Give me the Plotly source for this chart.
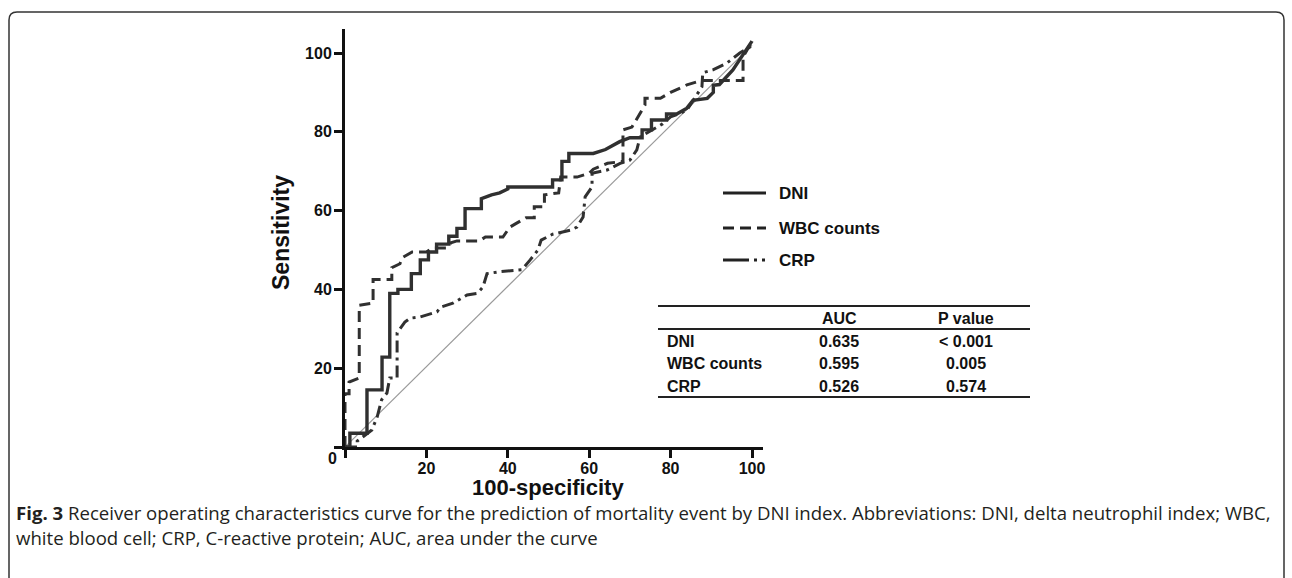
import plotly.graph_objects as go

# ---------------- data ----------------
dni_x = [0, 1.2, 1.2, 5.4, 5.4, 9.1, 9.1, 11, 11, 13, 13, 16.3, 16.3, 18.5, 18.5, 20.5, 20.5, 22.5, 22.5,
         25.5, 25.5, 27.5, 27.5, 29.5, 29.5, 33.5, 33.5, 36, 38, 40, 40, 51, 51, 53.3, 53.3, 55, 55, 61,
         64, 67.5, 70, 73, 73, 75.3, 75.3, 79, 79, 81.5, 84, 85.5, 89, 90.5, 90.5, 92, 95.3, 100]
dni_y = [0, 0, 3.5, 3.5, 14.5, 14.5, 22.8, 22.8, 39, 39, 40, 40, 44, 44, 47.5, 47.5, 49.5, 49.5, 51.5,
         51.5, 53.5, 53.5, 55.5, 55.5, 60.5, 60.5, 63, 64, 64.5, 65.5, 66, 66, 67.8, 67.8, 72.5, 72.5, 74.5, 74.5,
         75.5, 77.5, 78.5, 78.5, 80.5, 80.5, 83, 83, 84.5, 84.5, 86, 88, 88.5, 90, 91.8, 92, 95.7, 103]

wbc_x = [0, 0, 1, 1, 3.5, 3.5, 6.9, 6.9, 11.5, 11.5, 13.5, 14, 16.5, 20, 21.5, 25, 26, 27.5, 33, 34.5,
         38.8, 40.5, 42.5, 44.5, 46.5, 46.5, 49, 49, 52.5, 53, 57, 60, 61, 64.5, 68.3, 68.3, 70.5, 72,
         73.7, 73.7, 77.5, 80, 84, 87.5, 97.8, 97.8, 100]
wbc_y = [0, 13.5, 13.5, 16.5, 17.5, 36, 36.5, 42.5, 42.5, 45.5, 46.5, 48, 49.5, 49.5, 50.5, 50.5, 51.8,
         52.3, 52.3, 53.3, 53.3, 55.8, 57, 58.2, 58.2, 61, 61, 64, 64.5, 68.5, 68.5, 69.5, 70.5, 72, 72.5,
         80.5, 81.2, 83.8, 86.8, 88.5, 88.5, 90, 91.9, 93, 93, 99, 103]

crp_x = [0, 3, 3, 5, 6.6, 7.9, 9, 10.3, 11, 12.8, 12.8, 14.7, 16, 18.5, 22.6, 23.5, 26.5, 30, 32.5, 33.9,
         34.9, 38, 43.5, 45.5, 47.4, 48.2, 51, 55.3, 57, 58.5, 59, 60.7, 60.7, 64.4, 67.6, 70, 71.7, 72.5,
         75.7, 78, 80, 82, 84, 85.5, 87.7, 87.9, 90.4, 93.9, 95.3, 97, 99.5, 100]
crp_y = [0, 0, 1.5, 3, 4.3, 7.6, 12, 13.7, 17.5, 17.5, 29, 31.7, 32.7, 33, 34.3, 35.5, 36.5, 38.6, 39, 40.6,
         44, 44.5, 45, 47.5, 50, 52.5, 54, 55, 55.8, 58.4, 63.5, 66, 69.5, 70.3, 72, 72.8, 75.4, 78.7,
         80.5, 82, 83.8, 84.5, 85.5, 88, 91.4, 95, 95.7, 97.5, 98.7, 100, 101.5, 103]

ref_x = [0, 100]
ref_y = [0, 102]

series_names = ["DNI", "WBC counts", "CRP"]
auc_values = ["0.635", "0.595", "0.526"]
p_values = ["< 0.001", "0.005", "0.574"]
table_header = ["AUC", "P value"]

tick_vals = [0, 20, 40, 60, 80, 100]
tick_text = ["", "20", "40", "60", "80", "100"]

caption_bold = "Fig. 3"
caption_line1 = (" Receiver operating characteristics curve for the prediction of mortality event by DNI index. "
                 "Abbreviations: DNI, delta neutrophil index; WBC,")
caption_line2 = "white blood cell; CRP, C-reactive protein; AUC, area under the curve"

# ---------------- layout helpers ----------------
W, H = 1292, 578
L, R, T, B = 345, 763, 29, 447


def px(x):
    return (x - L) / (R - L)


def py(y):
    return (B - y) / (B - T)


LINE_COL = "#303030"
DASH_WBC = "11px,6px"
DASH_CRP = "12px,5px,3px,5px"

fig = go.Figure()
fig.add_trace(go.Scatter(x=ref_x, y=ref_y, mode="lines", line=dict(color="#9a9a9a", width=1.2),
                         showlegend=False, hoverinfo="skip"))
fig.add_trace(go.Scatter(x=crp_x, y=crp_y, mode="lines", name="CRP",
                         line=dict(color=LINE_COL, width=3, dash=DASH_CRP), showlegend=False))
fig.add_trace(go.Scatter(x=wbc_x, y=wbc_y, mode="lines", name="WBC counts",
                         line=dict(color=LINE_COL, width=3, dash=DASH_WBC), showlegend=False))
fig.add_trace(go.Scatter(x=dni_x, y=dni_y, mode="lines", name="DNI",
                         line=dict(color=LINE_COL, width=3.4), showlegend=False))

axis_font = dict(family="Liberation Sans, Arial, sans-serif", size=16, color="#111")
common_axis = dict(showline=True, linewidth=3, linecolor="#111", ticks="outside", ticklen=8, tickwidth=2.5,
                   tickcolor="#111", showgrid=False, zeroline=False, tickfont=axis_font,
                   tickvals=tick_vals, ticktext=["<b>%s</b>" % t if t else "" for t in tick_text])
fig.update_xaxes(range=[0, (R - L) / 4.07], ticklabelstandoff=-3, **common_axis)
fig.update_yaxes(range=[0, (B - T) / 3.94], ticklabelstandoff=-1, **common_axis)

annotations = []
bold = dict(family="Liberation Sans, Arial, sans-serif", color="#111")


def ann(text, x, y, size, xanchor="center", yanchor="middle", angle=0, font=None, **kw):
    f = dict(bold) if font is None else dict(font)
    f["size"] = size
    annotations.append(dict(text=text, x=px(x), y=py(y), xref="paper", yref="paper", showarrow=False,
                            xanchor=xanchor, yanchor=yanchor, textangle=angle, font=f, **kw))


ann("<b>0</b>", 332, 459, 16)
ann("<b>Sensitivity</b>", 281, 233, 23, angle=-90)
ann("<b>100-specificity</b>", 548, 488, 22)

# legend
shapes = []
leg_y = [193, 228, 260]
leg_dash = ["solid", DASH_WBC, "26px,5px,3px,5px,3px,5px"]
for name, yy, d in zip(series_names, leg_y, leg_dash):
    shapes.append(dict(type="line", xref="paper", yref="paper", x0=px(723), x1=px(766), y0=py(yy), y1=py(yy),
                       line=dict(color="#222", width=3, dash=d)))
    ann("<b>%s</b>" % name, 777, yy, 17, xanchor="left")

# table
for yy in [306, 329, 397]:
    shapes.append(dict(type="line", xref="paper", yref="paper", x0=px(658), x1=px(1030), y0=py(yy), y1=py(yy),
                       line=dict(color="#222", width=2)))
ann("<b>%s</b>" % table_header[0], 839, 318, 16)
ann("<b>%s</b>" % table_header[1], 966, 318, 16)
row_y = [341, 363, 386]
for name, a, p, yy in zip(series_names, auc_values, p_values, row_y):
    ann("<b>%s</b>" % name, 665, yy, 16, xanchor="left")
    ann("<b>%s</b>" % a, 839, yy, 16)
    ann("<b>%s</b>" % p, 966, yy, 16)

# caption
cap_font = dict(family="Open Sans, Noto Sans, sans-serif", color="#231f20")
ann("<b>%s</b>%s" % (caption_bold, caption_line1), 14, 512, 18.6, xanchor="left", font=cap_font)
ann(caption_line2, 14, 537, 18.6, xanchor="left", font=cap_font)

# rounded frame (open at the bottom)
r = 8
fx0, fx1, fy0, fyb = 9, 1284, 12, 620
path = ("M {a},{b} L {a},{c} Q {a},{d} {e},{d} L {f},{d} Q {g},{d} {g},{c} L {g},{b}").format(
    a=px(fx0), b=py(fyb), c=py(fy0 + r), d=py(fy0), e=px(fx0 + r), f=px(fx1 - r), g=px(fx1))
shapes.append(dict(type="path", xref="paper", yref="paper", path=path, line=dict(color="#333", width=1.5)))

fig.update_layout(width=W, height=H, margin=dict(l=L, r=W - R, t=T, b=H - B),
                  paper_bgcolor="white", plot_bgcolor="white", showlegend=False,
                  annotations=annotations, shapes=shapes)

fig.write_html("out.html", config={"displayModeBar": False},
               post_script="document.body.style.margin='0px';document.body.style.overflow='hidden';")
